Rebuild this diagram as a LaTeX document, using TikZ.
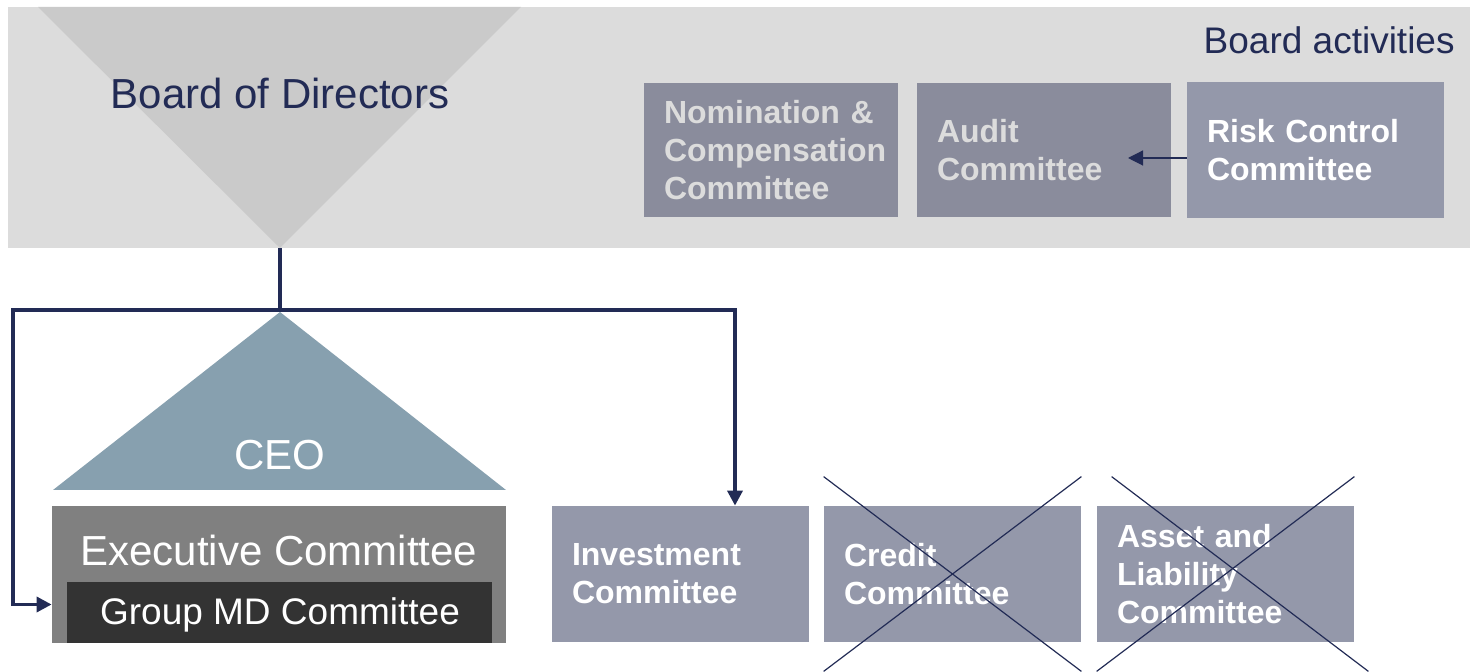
\documentclass[tikz,border=0pt]{standalone}
\usepackage{fontspec}
\setmainfont{Liberation Sans}
\usetikzlibrary{arrows.meta}

\definecolor{navy}{HTML}{222B55}
\definecolor{boardband}{HTML}{DCDCDC}
\definecolor{boardtri}{HTML}{CACACA}
\definecolor{darkbox}{HTML}{8A8C9C}
\definecolor{lightbox}{HTML}{9498AA}
\definecolor{ceoblue}{HTML}{87A0AF}
\definecolor{execgray}{HTML}{808080}
\definecolor{mdgray}{HTML}{333333}

\tikzset{
  committee/.style={rectangle, fill=lightbox, text=white, inner sep=0pt, inner xsep=10pt,
    text width=108.5pt, minimum height=68pt, align=left,
    font=\bfseries\fontsize{16}{19}\selectfont},
  boardcommittee/.style={committee, fill=darkbox, text=boardband, text width=107pt, minimum height=67pt},
  bigtext/.style={font=\fontsize{21}{25}\selectfont},
  midtext/.style={font=\fontsize{18.5}{22}\selectfont},
  conn/.style={draw=navy, line width=1.75pt},
  cross/.style={draw=navy, line width=0.6pt},
  tip/.style={-{Triangle[length=7.5pt,width=7.5pt]}}
}

\begin{document}
\begin{tikzpicture}[x=0.5pt, y=-0.5pt]
  \useasboundingbox (0,0) rectangle (1470,672);

  % board area with the downward triangle
  \fill[boardband] (8,7) rectangle (1470,248);
  \fill[boardtri] (38,7) -- (521,7) -- (280,248) -- cycle;
  \coordinate (boardtip) at (280,248);
  \node[bigtext, text=navy] (board) at (280,93) {Board of Directors};
  \node[midtext, text=navy, anchor=east, inner sep=0pt] (activities) at (1455,40) {Board activities};

  % board committees
  \node[boardcommittee] (nomination) at (771,150) {Nomination \&\\Compensation\\Committee};
  \node[boardcommittee] (audit) at (1044,150) {Audit\\Committee};
  \node[committee] (risk) at (1315.5,150) {Risk Control\\Committee};
  \coordinate (auditin) at (1128,158);
  \draw[navy, line width=0.6pt, tip] ([yshift=-4pt]risk.west) -- (auditin);

  % CEO and executive committee
  \fill[ceoblue] (280,312) -- (506,490) -- (53,490) -- cycle;
  \node[bigtext, text=white] (ceo) at (280,455) {CEO};
  \node[rectangle, fill=execgray, minimum width=227pt, minimum height=68.5pt, inner sep=0pt] (exec) at (279,574.5) {};
  \node[bigtext, text=white] (exectitle) at (279,550) {Executive Committee};
  \node[rectangle, fill=mdgray, minimum width=212.5pt, minimum height=30.5pt, inner sep=0pt] (groupmd) at (279.5,612.5) {};
  \node[midtext, text=white] (groupmdtitle) at (280,615) {Group MD Committee};

  % management committees
  \node[committee] (invest) at (680.5,574) {Investment\\Committee};
  \node[committee] (credit) at (952.5,574) {Credit\\Committee};
  \node[committee] (asset) at (1225.5,574) {Asset and\\Liability\\Committee};

  % crossed out committees
  \draw[cross] ([yshift=14.5pt]credit.north west) -- ([yshift=-14.5pt]credit.south east);
  \draw[cross] ([yshift=14.5pt]credit.north east) -- ([yshift=-14.5pt]credit.south west);
  \draw[cross] ([xshift=7.5pt,yshift=14.5pt]asset.north west) -- ([xshift=7pt,yshift=-14.5pt]asset.south east);
  \draw[cross] ([yshift=14.5pt]asset.north east) -- ([yshift=-14.5pt]asset.south west);

  % reporting lines
  \coordinate (split) at (280,310);
  \draw[conn] (boardtip) -- (split);
  \draw[conn, tip] (split) -| ([xshift=27.25pt]invest.north);
  \draw[conn, tip] (split) -- ++(-267,0) |- ([yshift=-15pt]exec.west);
\end{tikzpicture}
\end{document}
